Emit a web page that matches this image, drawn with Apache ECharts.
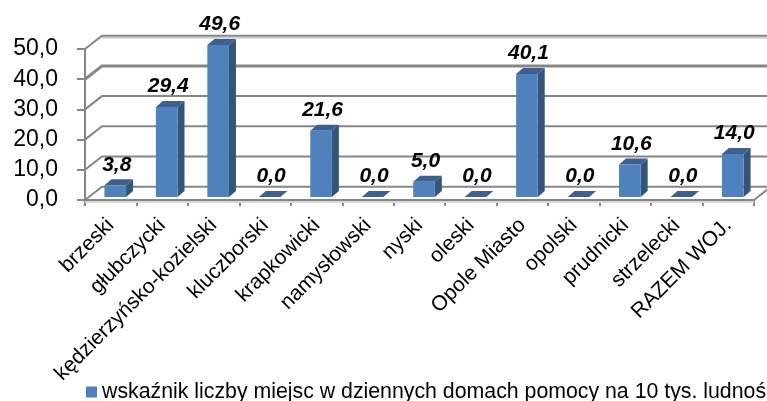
<!DOCTYPE html>
<html><head><meta charset="utf-8">
<style>html,body{margin:0;padding:0;background:#fff;overflow:hidden}#c{width:767px;height:401px}</style>
<script src="https://cdn.jsdelivr.net/npm/echarts@6/dist/echarts.min.js"></script></head>
<body><div id="c"></div>
<script>
const categories = ['brzeski','głubczycki','kędzierzyńsko-kozielski','kluczborski','krapkowicki','namysłowski','nyski','oleski','Opole Miasto','opolski','prudnicki','strzelecki','RAZEM WOJ.'];
const values = [3.8,29.4,49.6,0.0,21.6,0.0,5.0,0.0,40.1,0.0,10.6,0.0,14.0];
const gridTicks = [0,10,20,30,40,50];
const seriesName = 'wskaźnik liczby miejsc w dziennych domach pomocy na 10 tys. ludności';

const DX = 17, DY = 13.3, BDX = 7, BDY = 6, BAR_STRETCH = 1.015;
const chart = echarts.init(document.getElementById('c'), null, {renderer:'canvas'});
const fmt = v => v.toFixed(1).replace('.', ',');

function wall(params, api){
  const v = api.value(0);
  const y = api.coord([0, v])[1];
  const x0 = params.coordSys.x, x1 = x0 + params.coordSys.width;
  const kids = [{type:'polyline', silent:true, shape:{points:[[x0,y],[x0+DX,y-DY],[x1+DX+4,y-DY]]},
    style:{stroke:'#868686', lineWidth: v===40?3:2, fill:null}}];
  if (v===50) kids.unshift({type:'line', silent:true, shape:{x1:x0+DX,y1:y-DY+2,x2:x1+DX+4,y2:y-DY+2}, style:{stroke:'#cfcfcf', lineWidth:2}});
  if (v===0) kids.unshift(
    {type:'line', silent:true, shape:{x1:x0,y1:y+2,x2:x1,y2:y+2}, style:{stroke:'#d9d9d9', lineWidth:2}},
    {type:'line', silent:true, shape:{x1:x1,y1:y,x2:x1+DX,y2:y-DY}, style:{stroke:'#868686', lineWidth:2}});
  return {type:'group', children:kids};
}
function bar(params, api){
  const i = api.value(0), v = api.value(1);
  const c = api.coord([i, v]), b = api.coord([i, 0]);
  const w = api.size([1,0])[0]*0.42;
  const x = c[0]+4.5-w/2, xr = x+w;
  const base = b[1]-3, top = base-(b[1]-c[1])*BAR_STRETCH;
  return {type:'group', children:[
    {type:'polygon', shape:{points:[[xr,top],[xr+BDX,top-BDY],[xr+BDX,base-BDY],[xr,base]]}, style:{fill:'#345579'}},
    {type:'polygon', shape:{points:[[x,top],[x+BDX,top-BDY],[xr+BDX,top-BDY],[xr,top]]}, style:{fill:'#3d6090'}},
    {type:'rect', shape:{x:x,y:top,width:w,height:base-top}, style:{fill:'#4f81bd'}},
    {type:'text', style:{text:fmt(v), x:x+w/2+1.5, y:top-10, align:'center', verticalAlign:'bottom',
      font:'italic bold 21px "Liberation Sans"', fill:'#000'}}
  ]};
}

chart.setOption({
  animation:false,
  backgroundColor:'#fff',
  legend:{data:[{name:seriesName, icon:'rect'}], left:86, top:381, padding:0, itemWidth:11, itemHeight:11, itemGap:5,
    textStyle:{fontFamily:'Liberation Sans', fontSize:21.3, lineHeight:22, color:'#000'}},
  grid:{left:85, top:49, width:669, height:151},
  xAxis:{type:'category', data:categories, boundaryGap:true,
    axisLine:{lineStyle:{color:'#868686', width:2}},
    axisTick:{show:true, alignWithLabel:false, length:6, lineStyle:{color:'#868686', width:2}},
    axisLabel:{interval:0, rotate:45, margin:22, fontFamily:'Liberation Sans', fontSize:21, color:'#000'}},
  yAxis:{type:'value', min:0, max:50, interval:10, splitLine:{show:false},
    axisLine:{show:true, lineStyle:{color:'#868686', width:2}},
    axisTick:{show:true, length:8, lineStyle:{color:'#868686', width:2}},
    axisLabel:{margin:27, fontFamily:'Liberation Sans', fontSize:23, color:'#000', formatter:fmt}},
  series:[
    {type:'custom', name:'wall', renderItem:wall, data:gridTicks.map(v=>[v]), encode:{y:0}, silent:true, z:1, clip:false},
    {type:'custom', name:seriesName, renderItem:bar, data:values.map((v,i)=>[i,v]), encode:{x:0,y:1}, itemStyle:{color:'#4f81bd'}, z:3, clip:false}
  ]
});
</script></body></html>
